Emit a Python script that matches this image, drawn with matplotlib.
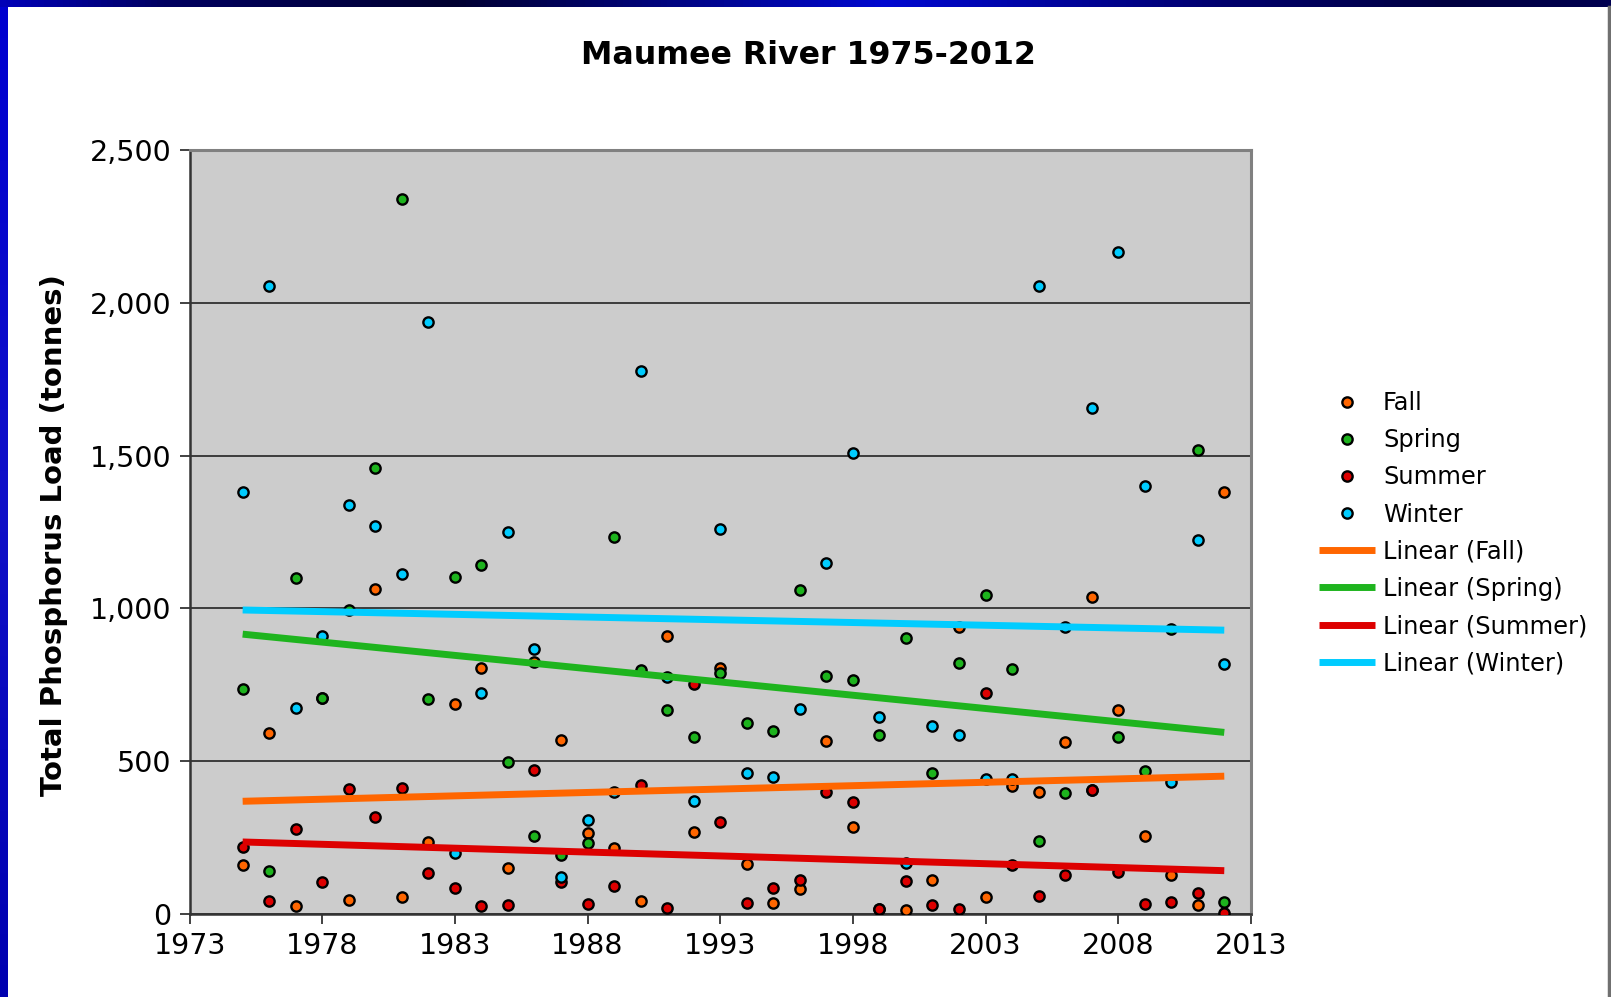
import numpy as np
import matplotlib
matplotlib.use("Agg")
import matplotlib.pyplot as plt
from matplotlib.colors import LinearSegmentedColormap
from matplotlib.ticker import FuncFormatter, MultipleLocator

years = list(range(1975, 2013))

fall = [160, 592, 26, 707, 47, 1063, 57, 236, 688, 804,
        149, 824, 569, 265, 217, 43, 911, 267, 804, 164,
        36, 83, 566, 284, 16, 13, 111, 938, 56, 419,
        400, 563, 1036, 668, 255, 129, 29, 1382]
spring = [737, 142, 1100, 707, 995, 1460, 2339, 704, 1104, 1141,
          496, 256, 193, 231, 1234, 798, 666, 578, 788, 625,
          600, 1060, 778, 767, 585, 903, 460, 822, 1044, 802,
          238, 396, 405, 580, 468, 933, 1517, 38]
summer = [220, 43, 278, 104, 409, 316, 413, 134, 86, 27,
          29, 470, 104, 33, 91, 422, 20, 752, 300, 35,
          85, 110, 398, 365, 17, 108, 28, 17, 724, 159,
          59, 128, 405, 139, 34, 40, 68, 2]
winter = [1380, 2055, 674, 911, 1339, 1269, 1114, 1936, 199, 724,
          1249, 867, 120, 306, 398, 1777, 777, 369, 1259, 461,
          448, 670, 1150, 1508, 643, 166, 616, 587, 441, 443,
          2056, 938, 1656, 2167, 1400, 432, 1224, 819]

series_names = ["Fall", "Spring", "Summer", "Winter"]
series_values = [fall, spring, summer, winter]
dot_colors = ["#FF6600", "#1DB31D", "#DD0000", "#00CCFF"]
line_colors = ["#FF6600", "#1EB41E", "#DD0000", "#00CCFF"]

title = "Maumee River 1975-2012"
ylabel = "Total Phosphorus Load (tonnes)"
xticks = list(range(1973, 2014, 5))

plt.rcParams['font.family'] = ['DejaVu Sans']

W, H = 1611, 997
fig = plt.figure(figsize=(W / 100, H / 100), dpi=100)
fig.patch.set_facecolor("white")

# decorative blue frame (top and left)
top_cmap = LinearSegmentedColormap.from_list(
    "topband", [(0.0, "#0000b8"), (0.1, "#000060"), (0.28, "#000030"),
                (0.55, "#0008d0"), (0.75, "#000070"), (0.9, "#000040"),
                (1.0, "#000050")])
band = fig.add_axes([0, 1 - 7 / H, 1, 7 / H])
band.imshow(np.linspace(0, 1, 512).reshape(1, -1), aspect="auto", cmap=top_cmap)
band.axis("off")
left_cmap = LinearSegmentedColormap.from_list(
    "leftband", [(0.0, "#0000d0"), (0.5, "#1010c8"), (1.0, "#0000b0")])
lband = fig.add_axes([0, 0, 8 / W, 1 - 7 / H])
lband.imshow(np.linspace(0, 1, 512).reshape(-1, 1), aspect="auto", cmap=left_cmap)
lband.axis("off")
fig.add_artist(plt.Line2D([1 - 2.5 / W, 1 - 2.5 / W], [0, 1 - 7 / H],
                          transform=fig.transFigure, color="#707070", lw=2.5))

ax = fig.add_axes([189.6 / W, 1 - 914 / H, (1250.8 - 189.6) / W, (914 - 150) / H])
ax.set_facecolor("#CCCCCC")

handles_pts = []
for name, vals, c in zip(series_names, series_values, dot_colors):
    h, = ax.plot(years, vals, linestyle="none", marker="o", ms=7.4,
                 mfc=c, mec="black", mew=1.7, label=name, zorder=3)
    handles_pts.append(h)

x = np.array(years, dtype=float)
handles_lines = []
for name, vals, c in zip(series_names, series_values, line_colors):
    k, b = np.polyfit(x, np.array(vals, dtype=float), 1)
    xs = np.array([x.min(), x.max()])
    h, = ax.plot(xs, k * xs + b, color=c, lw=5, solid_capstyle="butt",
                 label=f"Linear ({name})", zorder=4)
    handles_lines.append(h)

ax.set_xlim(1973, 2013)
ax.set_ylim(0, 2500)
ax.set_xticks(xticks)
ax.yaxis.set_major_locator(MultipleLocator(500))
ax.yaxis.set_major_formatter(FuncFormatter(lambda v, p: f"{int(v):,}"))
ax.grid(axis="y", color="#303030", lw=1.3)
ax.set_axisbelow(True)
ax.tick_params(axis="both", direction="out", length=7, width=1.3,
               colors="#333333", labelsize=20.5, labelcolor="black", pad=6)
for s in ["left", "bottom"]:
    ax.spines[s].set_color("#333333")
    ax.spines[s].set_linewidth(1.8)
for s in ["top", "right"]:
    ax.spines[s].set_color("#808080")
    ax.spines[s].set_linewidth(2.2)

fig.text(808 / W, 1 - 55 / H, title, ha="center", va="center",
         fontsize=22.8, fontweight="bold")
fig.text(54 / W, 1 - 535 / H, ylabel, ha="center", va="center",
         rotation=90, fontsize=21, fontweight="bold")

leg = ax.legend(handles=handles_pts + handles_lines, loc="upper left",
                bbox_to_anchor=(1319 / W, 1 - 391 / H),
                bbox_transform=fig.transFigure, frameon=False,
                fontsize=17.4, handlelength=2.3, handletextpad=0.35,
                labelspacing=0.545, borderpad=0, borderaxespad=0,
                numpoints=1)

fig.savefig("out.png", dpi=100, facecolor=fig.get_facecolor())
